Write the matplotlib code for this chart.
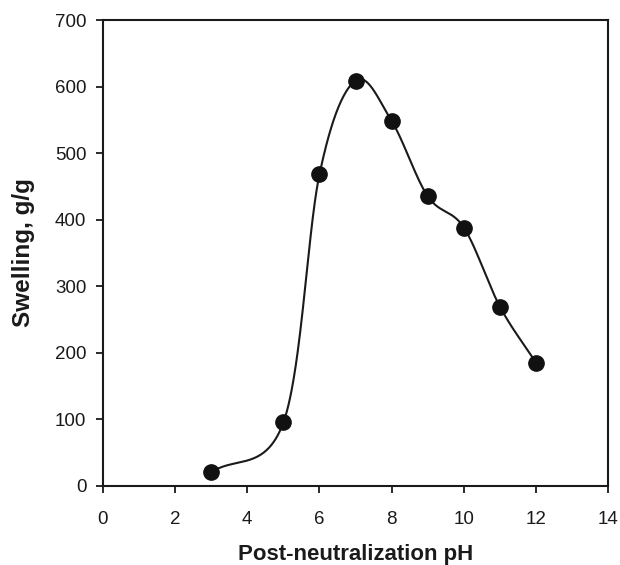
import numpy as np
import matplotlib
matplotlib.use("Agg")
import matplotlib.pyplot as plt

ph = [3, 5, 6, 7, 8, 9, 10, 11, 12]
swelling = [20, 95, 468, 609, 548, 435, 388, 269, 185]
x_ticks = [0, 2, 4, 6, 8, 10, 12, 14]
y_ticks = [0, 100, 200, 300, 400, 500, 600, 700]


def catmull_rom(x, y, per_seg=60):
    """Uniform parametric Catmull-Rom curve passing through every point."""
    P = np.column_stack([np.asarray(x, float), np.asarray(y, float)])
    P = np.vstack([2 * P[0] - P[1], P, 2 * P[-1] - P[-2]])
    t = np.linspace(0, 1, per_seg)[:, None]
    pieces = []
    for i in range(1, len(P) - 2):
        p0, p1, p2, p3 = P[i - 1], P[i], P[i + 1], P[i + 2]
        pieces.append(0.5 * (2 * p1 + (p2 - p0) * t
                             + (2 * p0 - 5 * p1 + 4 * p2 - p3) * t**2
                             + (3 * p1 - p0 - 3 * p2 + p3) * t**3))
    C = np.vstack(pieces)
    return C[:, 0], C[:, 1]


plt.rcParams["font.family"] = ["Liberation Sans", "DejaVu Sans"]
fig = plt.figure(figsize=(6.2, 5.65), dpi=100)
ax = fig.add_axes([0.166, 0.1404, 0.815, 0.8242])

xs, ys = catmull_rom(ph, swelling)
ax.plot(xs, ys, color="#1a1a1a", lw=1.5, zorder=2)
ax.plot(ph, swelling, "o", color="#111111", ms=11, zorder=3)

ax.set_xlim(0, 14)
ax.set_ylim(0, 700)
ax.set_xticks(x_ticks)
ax.set_yticks(y_ticks)
ax.tick_params(axis="both", direction="out", length=5, width=1.3,
               labelsize=13.5, colors="#1a1a1a")
ax.tick_params(axis="y", pad=7)
ax.tick_params(axis="x", pad=13)
ax.tick_params(top=False, right=False)
for s in ax.spines.values():
    s.set_linewidth(1.5)
    s.set_color("#1a1a1a")

ax.set_xlabel("Post-neutralization pH", fontsize=16, fontweight="bold",
              color="#1a1a1a", labelpad=12)
ax.set_ylabel("Swelling, g/g", fontsize=17.5, fontweight="bold",
              color="#1a1a1a", labelpad=14)

fig.savefig("out.png", dpi=100)
